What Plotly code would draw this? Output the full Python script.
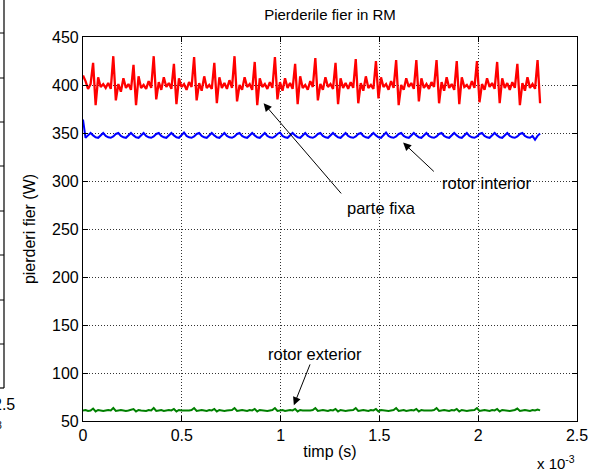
import plotly.graph_objects as go

# ---------------- data ----------------
dt = 1.278e-5  # sample step of the simulation (s)

parte_fixa = [
    410, 404, 396, 401,
    423, 379, 408, 398, 401, 397, 402, 396,   # 1
    430, 384, 401, 393, 407, 397, 401, 395,   # 2
    421, 379, 409, 397, 400, 396, 404, 397,   # 3
    430, 385, 403, 395, 408, 398, 402, 396,   # 4
    422, 380, 407, 398, 401, 395, 403, 398,   # 5
    429, 384, 402, 394, 409, 397, 400, 396,   # 6
    423, 381, 408, 397, 402, 396, 405, 397,   # 7
    430, 383, 400, 395, 408, 398, 401, 395,   # 8
    424, 379, 407, 398, 401, 396, 403, 397,   # 9
    429, 385, 403, 394, 407, 397, 402, 396,   # 10
    422, 380, 409, 397, 400, 395, 404, 398,   # 11
    428, 384, 401, 395, 408, 398, 401, 396,   # 12
    423, 380, 407, 397, 402, 396, 403, 397,   # 13
    427, 381, 402, 394, 409, 397, 400, 396,   # 14
    425, 386, 408, 398, 401, 395, 404, 397,   # 15
    426, 379, 400, 395, 407, 398, 402, 396,   # 16
    426, 383, 407, 397, 401, 396, 403, 398,   # 17
    426, 381, 403, 394, 408, 397, 401, 395,   # 18
    425, 380, 408, 398, 400, 396, 404, 397,   # 19
    425, 382, 401, 395, 407, 398, 402, 396,   # 20
    424, 381, 407, 397, 402, 395, 403, 397,   # 21
    422, 379, 402, 394, 408, 397, 401, 396,   # 22
    426, 381,
]

rotor_interior = [
    364, 345, 347.5, 350, 347.5, 345.5,
    345, 348, 350, 347, 345.5,              # 1
    345, 346.5, 349, 350, 347, 345.5,
    345, 347.5, 350, 347.5, 345.5,
    345, 348, 350, 347, 345.5,              # 2
    345, 346.5, 349, 350, 347, 345.5,
    345, 347.5, 350, 347.5, 345.5,
    345, 348, 350.5, 347, 345.5,            # 3
    345, 346.5, 349, 350, 347, 345.5,
    345, 347.5, 350, 347.5, 345.5,
    345, 348, 350, 347, 345.5,              # 4
    345, 346.5, 349, 350, 347, 345.5,
    345, 347.5, 350, 347.5, 345.5,
    345, 348, 350, 347, 345.5,              # 5
    345, 346.5, 349, 350.5, 347, 345.5,
    345, 347.5, 350, 347.5, 345.5,
    345, 348, 350, 347, 345.5,              # 6
    345, 346.5, 349, 350, 347, 345.5,
    345, 347.5, 350, 347.5, 345.5,
    345, 348, 350, 347, 345.5,              # 7
    345, 346.5, 349, 350, 347, 345.5,
    345, 347.5, 350, 347.5, 345.5,
    345, 348, 350.5, 347, 345.5,            # 8
    345, 346.5, 349, 350, 347, 345.5,
    345, 347.5, 350, 347.5, 345.5,
    345, 348, 350, 347, 345.5,              # 9
    345, 346.5, 349, 350, 347, 345.5,
    345, 347.5, 350, 347.5, 345.5,
    345, 348, 350, 347, 345.5,              # 10
    345, 346.5, 349, 350, 347, 345.5,
    345, 347.5, 350, 347.5, 345.5,
    345, 348, 350, 347, 345.5,              # 11
    345, 346.5, 349, 350, 347, 345.5,
    345, 347, 343, 347, 349.5,
]

rotor_exterior = [
    61, 61.5, 60.5, 61,
    63, 60, 61.5, 61, 60.5, 61, 61.5, 61,          # 1
    63.5, 60.5, 61, 61.5, 61, 60.5, 61, 61.5,      # 2
    62.5, 60, 61.5, 61, 61, 60.5, 61.5, 61,        # 3
    63.5, 60.5, 61, 61.5, 60.5, 61, 61.5, 61,      # 4
    62.5, 60, 61.5, 61, 61, 60.5, 61, 61.5,        # 5
    63.5, 60.5, 61, 61.5, 61, 60.5, 61.5, 61,      # 6
    62.5, 60, 61.5, 61, 60.5, 61, 61, 61.5,        # 7
    63.5, 60.5, 61, 61.5, 61, 60.5, 61.5, 61,      # 8
    62.5, 60, 61.5, 61, 61, 60.5, 61, 61.5,        # 9
    63.5, 60.5, 61, 61.5, 60.5, 61, 61.5, 61,      # 10
    62.5, 60, 61.5, 61, 61, 60.5, 61, 61.5,        # 11
    63.5, 60.5, 61, 61.5, 61, 60.5, 61.5, 61,      # 12
    62.5, 60, 61.5, 61, 60.5, 61, 61, 61.5,        # 13
    63.5, 60.5, 61, 61.5, 61, 60.5, 61.5, 61,      # 14
    62.5, 60, 61.5, 61, 61, 60.5, 61, 61.5,        # 15
    63.5, 60.5, 61, 61.5, 60.5, 61, 61.5, 61,      # 16
    62.5, 60, 61.5, 61, 61, 60.5, 61, 61.5,        # 17
    63.5, 60.5, 61, 61.5, 61, 60.5, 61.5, 61,      # 18
    62.5, 60, 61.5, 61, 60.5, 61, 61, 61.5,        # 19
    63.5, 60.5, 61, 61.5, 61, 60.5, 61.5, 61,      # 20
    62.5, 60, 61.5, 61, 61, 60.5, 61, 61.5,        # 21
    63, 60.5, 61, 61.5, 61, 60.5, 61.5, 61,        # 22
    62, 61,
]

x_tick_vals = [0, 0.5e-3, 1.0e-3, 1.5e-3, 2.0e-3, 2.5e-3]
x_tick_text = ["0", "0.5", "1", "1.5", "2", "2.5"]
y_tick_vals = [50, 100, 150, 200, 250, 300, 350, 400, 450]

title_text = "Pierderile fier in RM"
x_title = "timp (s)"
y_title = "pierderi fier (W)"

# annotation positions (data coords): text x, text y, arrow head x/y, arrow tail x/y
notes = [
    ("parte fixa", 1.510e-3, 271.5, 0.914e-3, 381.0, 1.313e-3, 285.5),
    ("rotor interior", 2.040e-3, 298.0, 1.620e-3, 340.0, 1.783e-3, 308.5),
    ("rotor exterior", 1.172e-3, 120.0, 1.067e-3, 66.5, 1.152e-3, 110.5),
]

# ---------------- figure ----------------
def times(n):
    return [i * dt for i in range(n)]

FONT = "Liberation Sans, Arial, sans-serif"

fig = go.Figure()
fig.add_trace(go.Scatter(x=times(len(parte_fixa)), y=parte_fixa, mode="lines",
                         line=dict(color="#ff0000", width=2.3), showlegend=False))
fig.add_trace(go.Scatter(x=times(len(rotor_interior)), y=rotor_interior, mode="lines",
                         line=dict(color="#0000ff", width=2), showlegend=False))
fig.add_trace(go.Scatter(x=times(len(rotor_exterior)), y=rotor_exterior, mode="lines",
                         line=dict(color="#008000", width=2), showlegend=False))

axis_common = dict(
    showline=True, linecolor="black", linewidth=1.2, mirror="ticks",
    ticks="inside", ticklen=5, tickcolor="black", tickwidth=1,
    showgrid=True, gridcolor="#333", griddash="1px,2px", gridwidth=1,
    zeroline=False, automargin=False,
    tickfont=dict(family=FONT, size=16, color="black"),
)

fig.update_xaxes(range=[0, 2.5e-3], tickvals=x_tick_vals, ticktext=x_tick_text,
                 title=dict(text=x_title, font=dict(family=FONT, size=16, color="black"), standoff=2),
                 **axis_common)
fig.update_yaxes(range=[50, 450], tickvals=y_tick_vals,
                 title=dict(text=y_title, font=dict(family=FONT, size=16, color="black"), standoff=12),
                 **axis_common)

annotations = []
for txt, tx, ty, hx, hy, ax_, ay_ in notes:
    annotations.append(dict(x=tx, y=ty, xref="x", yref="y", text=txt, showarrow=False,
                            xanchor="center", yanchor="middle",
                            font=dict(family=FONT, size=16.5, color="black")))
    annotations.append(dict(x=hx, y=hy, xref="x", yref="y", ax=ax_, ay=ay_,
                            axref="x", ayref="y", text="", showarrow=True,
                            arrowhead=2, arrowsize=1.6, arrowwidth=1, arrowcolor="black"))

W_PLOT, H_PLOT = 494.0, 384.0
def px(x):
    return (x - 83) / W_PLOT
def py(y):
    return (421 - y) / H_PLOT

annotations.append(dict(x=px(577), y=py(462), xref="paper", yref="paper", xanchor="right",
                        yanchor="middle", text="x 10<sup>-3</sup>", showarrow=False,
                        font=dict(family=FONT, size=15, color="black")))

# fragment of a neighbouring figure at the left edge
annotations.append(dict(x=px(4), y=py(404), xref="paper", yref="paper", text="2.5",
                        xanchor="center", yanchor="middle",
                        showarrow=False, font=dict(family=FONT, size=16, color="black")))
annotations.append(dict(x=px(4), y=py(425), xref="paper", yref="paper", xanchor="right",
                        yanchor="middle",
                        text="-3", showarrow=False, font=dict(family=FONT, size=10, color="black")))

shapes = [
    dict(type="line", xref="paper", yref="paper", x0=px(4), x1=px(4), y0=py(-2), y1=py(388),
         line=dict(color="black", width=1.2)),
    dict(type="line", xref="paper", yref="paper", x0=px(-2), x1=px(4), y0=py(388), y1=py(388),
         line=dict(color="black", width=1.2)),
]
for ty in [33, 78, 122, 166, 211, 255, 300, 344]:
    shapes.append(dict(type="line", xref="paper", yref="paper", x0=px(-1), x1=px(4),
                       y0=py(ty), y1=py(ty), line=dict(color="black", width=1)))

fig.update_layout(
    width=591, height=475,
    margin=dict(l=83, r=14, t=37, b=54, autoexpand=False),
    paper_bgcolor="white", plot_bgcolor="white",
    title=dict(text=title_text, x=px(330), xref="paper", xanchor="center",
               y=1 - 15 / 475, yref="container", yanchor="middle",
               font=dict(family=FONT, size=15, color="black")),
    annotations=annotations, shapes=shapes,
    showlegend=False,
)

fig.write_html("out.html", config={"displayModeBar": False},
               post_script="document.body.style.margin='0';document.body.style.overflow='hidden';")
